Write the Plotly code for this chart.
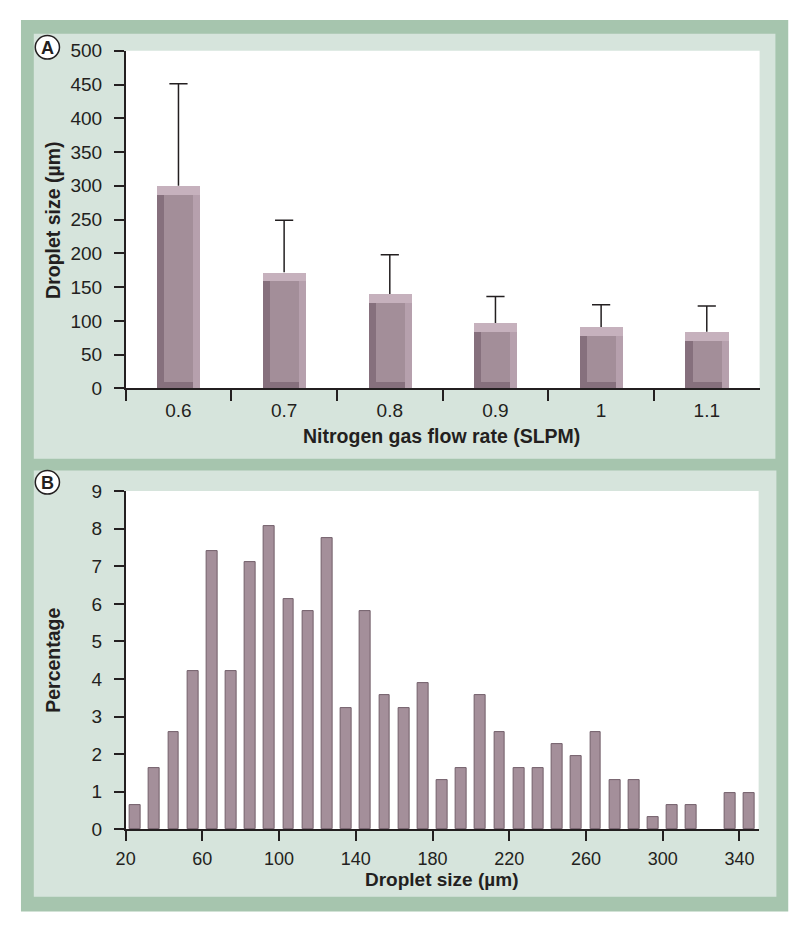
import plotly.graph_objects as go

# ---------------- data ----------------
flow_rates = ["0.6", "0.7", "0.8", "0.9", "1", "1.1"]
mean_size = [300, 172, 140, 97, 91, 84]
size_err = [151, 77, 58, 39, 33, 38]

bin_centers = [25, 35, 45, 55, 65, 75, 85, 95, 105, 115, 125, 135, 145, 155, 165,
               175, 185, 195, 205, 215, 225, 235, 245, 255, 265, 275, 285, 295,
               305, 315, 325, 335, 345]
percentage = [0.65, 1.62, 2.59, 4.21, 7.41, 4.2, 7.12, 8.07, 6.12, 5.81, 7.74,
              3.23, 5.81, 3.56, 3.23, 3.89, 1.3, 1.62, 3.56, 2.59, 1.62, 1.62,
              2.26, 1.94, 2.59, 1.3, 1.3, 0.32, 0.65, 0.65, 0, 0.97, 0.97]
b_ticks = [20, 60, 100, 140, 180, 220, 260, 300, 340]
a_yticks = list(range(0, 501, 50))
b_yticks = list(range(0, 10))

# ---------------- styling ----------------
W, H = 800, 933
PAGE_OFF = 8   # default page (body) margin of the html page
FONT = "Liberation Sans, Arial, Helvetica, sans-serif"
INK = "#231f20"
OUTER = "#a6c5ae"
PANEL = "#d6e4dc"
TICK_SIZE = 19
TITLE_SIZE = 19.5


def fx(px):
    return (px - PAGE_OFF) / W


def fy(py):
    return 1 - (py - PAGE_OFF) / H


fig = go.Figure()

# Panel A: bevelled bars built from overlaid bar traces
BW = 0.41      # bar width (category units)
BEV_X = 0.068  # bevel width (category units)
BEV_TOP = 13   # bevel height at top (data units)
BEV_BOT = 10   # bevel height at bottom (data units)

fig.add_trace(go.Bar(x=flow_rates, y=mean_size, width=BW, offset=-BW / 2,
                     marker=dict(color="#c6b1bd", line=dict(width=0)),
                     xaxis="x", yaxis="y", hoverinfo="skip"))
fig.add_trace(go.Bar(x=flow_rates, y=[v - BEV_TOP for v in mean_size], base=0,
                     width=BW, offset=-BW / 2,
                     marker=dict(color="#b6a0ad", line=dict(width=0)),
                     xaxis="x", yaxis="y", hoverinfo="skip"))
fig.add_trace(go.Bar(x=flow_rates, y=[v - BEV_TOP for v in mean_size], base=0,
                     width=BW - BEV_X, offset=-BW / 2,
                     marker=dict(color="#86707d", line=dict(width=0)),
                     xaxis="x", yaxis="y", hoverinfo="skip"))
fig.add_trace(go.Bar(x=flow_rates, y=[v - BEV_TOP - BEV_BOT for v in mean_size],
                     base=BEV_BOT, width=BW - 2 * BEV_X, offset=-BW / 2 + BEV_X,
                     marker=dict(color="#a38e99", line=dict(width=0)),
                     xaxis="x", yaxis="y", hoverinfo="skip"))

# upward-only error bars
ex, ey = [], []
for c, v, e in zip(flow_rates, mean_size, size_err):
    ex += [c, c, None]
    ey += [v, v + e, None]
fig.add_trace(go.Scatter(x=ex, y=ey, mode="lines", line=dict(color=INK, width=1.5),
                         xaxis="x", yaxis="y", hoverinfo="skip"))
fig.add_trace(go.Scatter(x=flow_rates, y=[v + e for v, e in zip(mean_size, size_err)],
                         mode="markers",
                         marker=dict(symbol="line-ew", size=13,
                                     line=dict(color=INK, width=1.5)),
                         xaxis="x", yaxis="y", hoverinfo="skip"))

# Panel B: histogram bars
fig.add_trace(go.Bar(x=bin_centers, y=percentage, width=5.6,
                     marker=dict(color="#a48f9a",
                                 line=dict(color="#725e6a",
                                           width=[1 if p > 0 else 0 for p in percentage])),
                     xaxis="x2", yaxis="y2", hoverinfo="skip"))

axis_common = dict(showline=True, linecolor=INK, linewidth=1.5, ticks="outside",
                   tickcolor=INK, tickwidth=1.5, showgrid=False, zeroline=False,
                   tickfont=dict(family=FONT, size=TICK_SIZE, color=INK))
axis_b_x = dict(axis_common, tickfont=dict(family=FONT, size=18, color=INK))

fig.update_layout(
    width=W, height=H,
    margin=dict(l=0, r=0, t=0, b=0),
    paper_bgcolor="white", plot_bgcolor="white",
    barmode="overlay", bargap=0, showlegend=False,
    font=dict(family=FONT, color=INK),
    xaxis=dict(domain=[fx(117), fx(759)], anchor="y", type="category",
               range=[-0.5, 5.5], tickson="boundaries", ticklen=11,
               ticklabelstandoff=4, **axis_common),
    yaxis=dict(domain=[fy(387), fy(41.5)], anchor="x", range=[0, 500],
               tickvals=a_yticks, ticklen=10, ticklabelstandoff=8, **axis_common),
    xaxis2=dict(domain=[fx(117), fx(758)], anchor="y2", range=[20, 350],
                tickvals=b_ticks, ticklen=10, ticklabelstandoff=2, **axis_b_x),
    yaxis2=dict(domain=[fy(838), fy(492)], anchor="x2", range=[0, 9],
                tickvals=b_yticks, ticklen=10, ticklabelstandoff=8, **axis_common),
)


def rect(x0, x1, y0, y1, color):
    return dict(type="rect", xref="paper", yref="paper", x0=fx(x0), x1=fx(x1),
                y0=fy(y1), y1=fy(y0), fillcolor=color, line=dict(width=0),
                layer="below")


shapes = [
    rect(11, 788, 10, 922, OUTER),
    rect(24, 775, 24, 459, PANEL),
    rect(24, 776, 471, 907, PANEL),
    rect(117, 759, 41.5, 387, "white"),
    rect(117, 758, 492, 838, "white"),
    dict(type="circle", xref="paper", yref="paper", x0=fx(25.5), x1=fx(50),
         y0=fy(50), y1=fy(26), fillcolor="white", line=dict(color=INK, width=1.5)),
    dict(type="circle", xref="paper", yref="paper", x0=fx(25.5), x1=fx(50),
         y0=fy(495), y1=fy(471), fillcolor="white", line=dict(color=INK, width=1.5)),
]
fig.update_layout(shapes=shapes)

ann = [
    dict(text="<b>A</b>", x=fx(37.8), y=fy(38.5), font=dict(size=18)),
    dict(text="<b>B</b>", x=fx(37.8), y=fy(483.5), font=dict(size=18)),
    dict(text="<b>Droplet size (µm)</b>", x=fx(44), y=fy(215), textangle=-90,
         font=dict(size=TITLE_SIZE)),
    dict(text="<b>Nitrogen gas flow rate (SLPM)</b>", x=fx(437), y=fy(436),
         font=dict(size=TITLE_SIZE)),
    dict(text="<b>Percentage</b>", x=fx(44), y=fy(665), textangle=-90,
         font=dict(size=TITLE_SIZE)),
    dict(text="<b>Droplet size (µm)</b>", x=fx(437), y=fy(889.5),
         font=dict(size=19)),
]
for a in ann:
    a.update(xref="paper", yref="paper", showarrow=False, xanchor="center",
             yanchor="middle")
    a["font"].update(family=FONT, color=INK)
fig.update_layout(annotations=ann)

fig.write_html("out.html", config={"displayModeBar": False})
